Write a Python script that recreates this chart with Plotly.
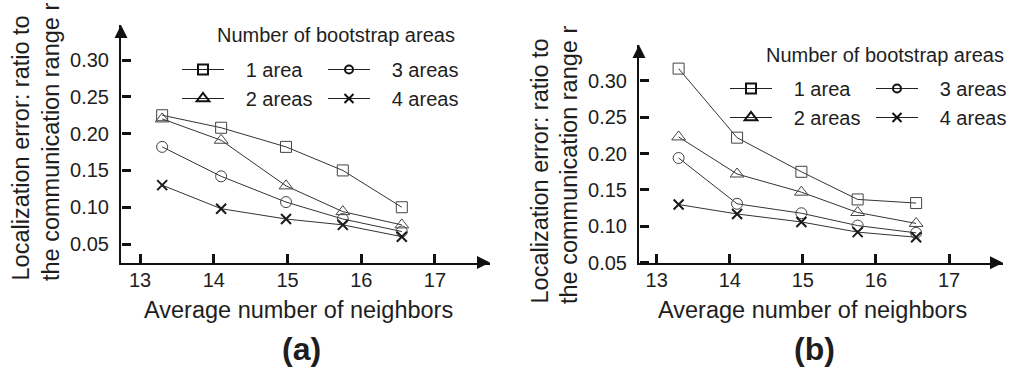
import plotly.graph_objects as go

W, H = 1010, 369
FONT = "Liberation Sans, Arial, sans-serif"
TXT = "#1e1e1e"

# ---------------- data ----------------
series_names = ["1 area", "2 areas", "3 areas", "4 areas"]
neighbors_a = [13.3, 14.1, 14.98, 15.75, 16.55]
neighbors_b = [13.3, 14.1, 14.98, 15.75, 16.55]

err_a_1 = [0.225, 0.208, 0.182, 0.150, 0.100]
err_a_2 = [0.220, 0.191, 0.129, 0.094, 0.076]
err_a_3 = [0.182, 0.142, 0.107, 0.084, 0.067]
err_a_4 = [0.130, 0.098, 0.084, 0.076, 0.060]

err_b_1 = [0.317, 0.222, 0.175, 0.137, 0.132]
err_b_2 = [0.223, 0.172, 0.147, 0.119, 0.104]
err_b_3 = [0.194, 0.131, 0.118, 0.101, 0.091]
err_b_4 = [0.130, 0.117, 0.106, 0.092, 0.085]

x_ticks = [13, 14, 15, 16, 17]
y_ticks = [0.05, 0.10, 0.15, 0.20, 0.25, 0.30]
y_tick_labels = ["0.05", "0.10", "0.15", "0.20", "0.25", "0.30"]

legend_title = "Number of bootstrap areas"
x_title = "Average number of neighbors"
y_title_1 = "Localization error: ratio to"
y_title_2 = "the communication range r"
panel_labels = ["(a)", "(b)"]

# ---------------- layout helpers (pixel -> paper) ----------------
def px(x):
    return x / W

def py(y):
    return 1 - y / H

panels = [
    dict(xdom=(121, 490), ydom=(262.5, 25), xr=(12.742, 17.746), yr=(0.0249, 0.3476),
         data=[err_a_1, err_a_2, err_a_3, err_a_4], nx=neighbors_a,
         leg_x=(177, 323), leg_y=50, ttl=(215, 35),
         yt=((20, 283), (51, 283)), xt=(298, 310), pl=(301, 349)),
    dict(xdom=(639, 1003), ydom=(262.8, 45), xr=(12.758, 17.739), yr=(0.0498, 0.3495),
         data=[err_b_1, err_b_2, err_b_3, err_b_4], nx=neighbors_b,
         leg_x=(725, 871), leg_y=69, ttl=(764, 55),
         yt=((539, 306), (569, 306)), xt=(812, 310), pl=(814, 349)),
]

sym_data = ["square-open", "triangle-up-open", "circle-open", "x-thin-open"]
size_data = [11, 12, 11, 10]
lw_data = [1, 1, 1, 2]
col_data = ["#444", "#444", "#444", "#1a1a1a"]
sym_leg = ["square-open", "triangle-up-open", "circle-open", "x-thin-open"]
size_leg = [10, 11, 8, 9]

fig = go.Figure()
annotations = []
shapes = []

for i, p in enumerate(panels):
    ax = "" if i == 0 else str(i + 1)
    xa, ya = "x" + ax, "y" + ax
    tick_ax = str(i + 3)          # overlay y axis that carries the inward y ticks
    for k, (name, vals) in enumerate(zip(series_names, p["data"])):
        fig.add_trace(go.Scatter(
            x=p["nx"], y=vals, name=name, mode="lines+markers", showlegend=False,
            xaxis=xa, yaxis=ya,
            line=dict(color="#333", width=1),
            marker=dict(symbol=sym_data[k], size=size_data[k], color=col_data[k],
                        line=dict(color=col_data[k], width=lw_data[k])),
            hoverinfo="skip"))
    fig.add_trace(go.Scatter(x=[None], y=[None], xaxis=xa, yaxis="y" + tick_ax,
                             showlegend=False, hoverinfo="skip"))
    # legend entries (two legends = two columns per panel)
    for k, name in enumerate(series_names):
        col = k // 2
        legname = "legend" + ("" if (2 * i + col) == 0 else str(2 * i + col + 1))
        fig.add_trace(go.Scatter(
            x=[None], y=[None], name="\u00a0\u00a0\u00a0" + name, mode="lines+markers",
            xaxis=xa, yaxis=ya, legend=legname, showlegend=True,
            line=dict(color="#222", width=1),
            marker=dict(symbol=sym_leg[k], size=size_leg[k], color="#111",
                        line=dict(color="#111", width=2))))

    # axes
    base = dict(showgrid=False, zeroline=False, fixedrange=True, automargin=False,
                tickfont=dict(family=FONT, size=20, color=TXT))
    fig.update_layout(**{
        ("xaxis" + ax): dict(domain=[px(p["xdom"][0]), px(p["xdom"][1])], range=list(p["xr"]),
                             anchor=ya, tickvals=x_ticks, ticktext=[str(t) for t in x_ticks],
                             showline=True, linewidth=2, linecolor="#111",
                             ticks="inside", tickwidth=3, ticklen=9, tickcolor="#111",
                             ticklabelstandoff=-2, **base),
        ("yaxis" + ax): dict(domain=[py(p["ydom"][0]), py(p["ydom"][1])], range=list(p["yr"]),
                             anchor=xa, tickvals=y_ticks, ticktext=y_tick_labels,
                             showline=True, linewidth=2, linecolor="#111", ticks="",
                             ticklabelstandoff=6, **base),
        ("yaxis" + tick_ax): dict(overlaying=ya, side="right", anchor="free",
                                  position=px(p["xdom"][0]), range=list(p["yr"]),
                                  tickvals=y_ticks, showticklabels=False, showline=False,
                                  ticks="outside", tickwidth=3, ticklen=9, tickcolor="#111",
                                  **base),
    })
    # arrow heads
    x0, x1 = p["xdom"]
    yb, yt = p["ydom"]
    shapes.append(dict(type="path", xref="paper", yref="paper", fillcolor="#111", line=dict(width=0),
                       path=f"M{px(x0)},{py(yt)} L{px(x0 - 6.5)},{py(yt + 13)} L{px(x0 + 6.5)},{py(yt + 13)} Z"))
    shapes.append(dict(type="path", xref="paper", yref="paper", fillcolor="#111", line=dict(width=0),
                       path=f"M{px(x1)},{py(yb)} L{px(x1 - 13)},{py(yb - 6.5)} L{px(x1 - 13)},{py(yb + 6.5)} Z"))
    # texts
    annotations.append(dict(text=legend_title, x=px(p["ttl"][0]), y=py(p["ttl"][1]), xref="paper", yref="paper",
                            xanchor="left", yanchor="middle", showarrow=False,
                            font=dict(family=FONT, size=20, color=TXT)))
    for (cx, by), t in zip(p["yt"], [y_title_1, y_title_2]):
        annotations.append(dict(text=t, x=px(cx), y=py(by), xref="paper", yref="paper", textangle=-90,
                                xanchor="center", yanchor="bottom", showarrow=False,
                                font=dict(family=FONT, size=23.5, color=TXT)))
    annotations.append(dict(text=x_title, x=px(p["xt"][0]), y=py(p["xt"][1]), xref="paper", yref="paper",
                            xanchor="center", yanchor="middle", showarrow=False,
                            font=dict(family=FONT, size=23.5, color=TXT)))
    annotations.append(dict(text="<b>" + panel_labels[i] + "</b>", x=px(p["pl"][0]), y=py(p["pl"][1]),
                            xref="paper", yref="paper", xanchor="center", yanchor="middle", showarrow=False,
                            font=dict(family=FONT, size=32, color=TXT)))

leg_common = dict(orientation="v", xanchor="left", yanchor="top", bgcolor="rgba(0,0,0,0)",
                  borderwidth=0, itemwidth=42, font=dict(family=FONT, size=20, color=TXT),
                  itemclick=False, itemdoubleclick=False)
legends = {}
for i, p in enumerate(panels):
    for col in range(2):
        idx = 2 * i + col
        key = "legend" + ("" if idx == 0 else str(idx + 1))
        legends[key] = dict(x=px(p["leg_x"][col]), y=py(p["leg_y"]), **leg_common)

fig.update_layout(width=W, height=H, margin=dict(l=0, r=0, t=0, b=0, autoexpand=False),
                  paper_bgcolor="white", plot_bgcolor="white",
                  annotations=annotations, shapes=shapes, **legends)

fig.write_html("out.html", config={"displayModeBar": False},
               post_script="document.body.style.margin='0px';document.body.style.overflow='hidden';")
